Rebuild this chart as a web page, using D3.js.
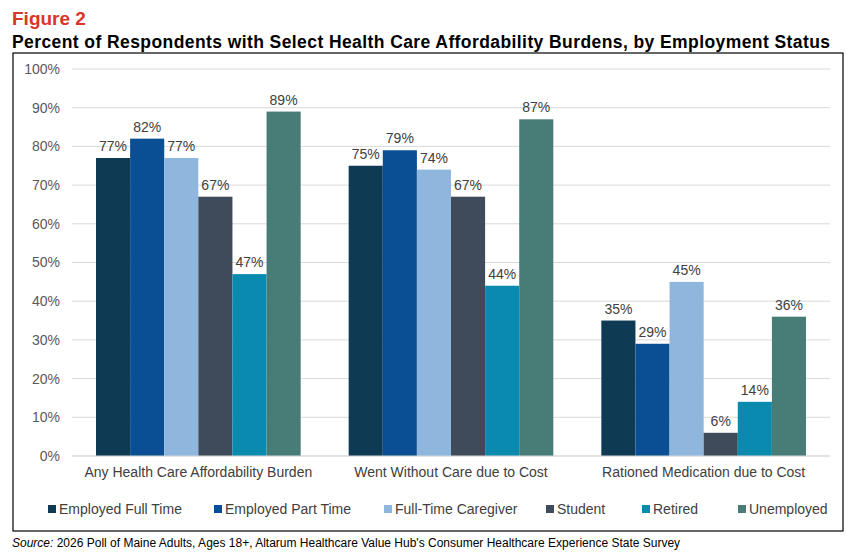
<!DOCTYPE html>
<html><head><meta charset="utf-8">
<script src="https://cdn.jsdelivr.net/npm/d3@7"></script>
<style>body{margin:0;background:#fff;font-family:"Liberation Sans Narrow","Roboto Condensed","Liberation Sans",sans-serif;}</style>
</head><body>
<svg id="c" width="858" height="553"></svg>
<script>
var categories = ["Any Health Care Affordability Burden", "Went Without Care due to Cost", "Rationed Medication due to Cost"];
var seriesNames = ["Employed Full Time", "Employed Part Time", "Full-Time Caregiver", "Student", "Retired", "Unemployed"];
var seriesColors = ["#0e3b53", "#0a4f93", "#8fb7de", "#3f4a5a", "#0b8ab0", "#487c77"];
var values = [
  [77, 75, 35],
  [82, 79, 29],
  [77, 74, 45],
  [67, 67, 6],
  [47, 44, 14],
  [89, 87, 36]
];
var yTicks = [0, 10, 20, 30, 40, 50, 60, 70, 80, 90, 100];

var svg = d3.select("#c");
var font = "'Liberation Sans', Arial, sans-serif";

svg.append("text").attr("x", 12).attr("y", 25).attr("fill", "#d9362b")
  .style("font", "bold 19px " + font).text("Figure 2");
svg.append("text").attr("x", 12).attr("y", 48).attr("fill", "#000")
  .style("font", "bold 17.5px " + font).attr("textLength", 818)
  .text("Percent of Respondents with Select Health Care Affordability Burdens, by Employment Status");

svg.append("rect").attr("x", 13).attr("y", 53).attr("width", 830).attr("height", 478)
  .attr("fill", "none").attr("stroke", "#000").attr("stroke-width", 1.2);

var x0 = d3.scaleBand().domain(categories).range([72, 830]).paddingInner(0.19).paddingOuter(0.095);
var x1 = d3.scaleBand().domain(seriesNames).range([0, x0.bandwidth()]);
var y = d3.scaleLinear().domain([0, 100]).range([456, 69]);

svg.append("g").selectAll("line").data(yTicks).join("line")
  .attr("x1", 72).attr("x2", 830).attr("y1", d => y(d)).attr("y2", d => y(d))
  .attr("stroke", "#d9d9d9");

var ya = svg.append("g").attr("transform", "translate(60,0)")
  .call(d3.axisLeft(y).tickValues(yTicks).tickSize(0).tickFormat(d => d + "%"));
ya.select(".domain").remove();
ya.selectAll("text").style("font", "14px " + font).attr("fill", "#595959").attr("x", 0);

var groups = svg.append("g").selectAll("g").data(seriesNames).join("g")
  .attr("fill", (d, i) => seriesColors[i]);
groups.selectAll("rect").data((s, i) => categories.map((c, j) => ({c: c, s: s, v: values[i][j]})))
  .join("rect")
  .attr("x", d => x0(d.c) + x1(d.s)).attr("width", x1.bandwidth())
  .attr("y", d => y(d.v)).attr("height", d => y(0) - y(d.v));
groups.selectAll("text").data((s, i) => categories.map((c, j) => ({c: c, s: s, v: values[i][j]})))
  .join("text")
  .attr("x", d => x0(d.c) + x1(d.s) + x1.bandwidth() / 2).attr("y", d => y(d.v) - 7)
  .attr("text-anchor", "middle").attr("fill", "#404040")
  .style("font", "14px " + font).text(d => d.v + "%");

svg.append("line").attr("x1", 72).attr("x2", 830).attr("y1", y(0)).attr("y2", y(0)).attr("stroke", "#d9d9d9");

var xa = svg.append("g").attr("transform", "translate(0," + y(0) + ")")
  .call(d3.axisBottom(x0).tickSize(0));
xa.select(".domain").remove();
xa.selectAll("text").style("font", "14px " + font).attr("fill", "#404040").attr("dy", "1.25em");

var legend = svg.append("g").selectAll("g").data(seriesNames).join("g");
var lx = [48, 214, 384, 546, 642, 738];
legend.attr("transform", (d, i) => "translate(" + lx[i] + ",510)");
legend.append("rect").attr("x", 0).attr("y", -5).attr("width", 8).attr("height", 8)
  .attr("fill", (d, i) => seriesColors[i]);
legend.append("text").attr("x", 11).attr("y", 4).attr("fill", "#404040")
  .style("font", "14px " + font).text(d => d);

svg.append("text").attr("x", 12).attr("y", 547).attr("fill", "#000")
  .style("font", "12px " + font)
  .html("<tspan font-style='italic'>Source:</tspan> 2026 Poll of Maine Adults, Ages 18+, Altarum Healthcare Value Hub's Consumer Healthcare Experience State Survey");
</script>
</body></html>
